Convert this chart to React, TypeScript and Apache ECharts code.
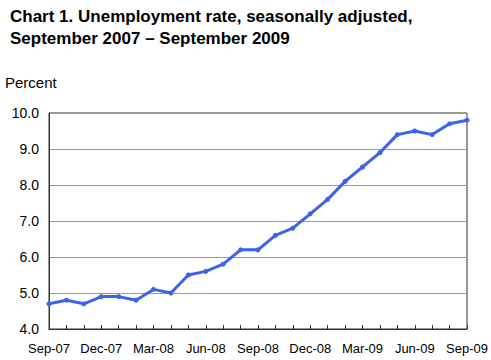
import React, { useEffect, useRef } from "react";
import * as echarts from "echarts";

const months = [
  "Sep-07", "Oct-07", "Nov-07", "Dec-07", "Jan-08", "Feb-08", "Mar-08", "Apr-08", "May-08",
  "Jun-08", "Jul-08", "Aug-08", "Sep-08", "Oct-08", "Nov-08", "Dec-08", "Jan-09", "Feb-09",
  "Mar-09", "Apr-09", "May-09", "Jun-09", "Jul-09", "Aug-09", "Sep-09",
];
const rate = [
  4.7, 4.8, 4.7, 4.9, 4.9, 4.8, 5.1, 5.0, 5.5, 5.6, 5.8, 6.2, 6.2, 6.6, 6.8, 7.2, 7.6, 8.1,
  8.5, 8.9, 9.4, 9.5, 9.4, 9.7, 9.8,
];
const titleText = "Chart 1. Unemployment rate, seasonally adjusted,\nSeptember 2007 \u2013 September 2009";
const yName = "Percent";

export default function App() {
  const ref = useRef<HTMLDivElement>(null);
  useEffect(() => {
    if (!ref.current) return;
    const chart = echarts.init(ref.current, undefined, { renderer: "svg" });
    const font = "Liberation Sans, Arial, sans-serif";
    chart.setOption({
      animation: false,
      backgroundColor: "#ffffff",
      textStyle: { fontFamily: font },
      title: {
        text: titleText,
        left: 5,
        top: 0,
        textStyle: { fontSize: 17, fontWeight: "bold", color: "#000", lineHeight: 22, fontFamily: font },
      },
      graphic: [
        {
          type: "text",
          left: 5,
          top: 75,
          style: { text: yName, fontSize: 15, fill: "#000", fontFamily: font },
        },
      ],
      grid: { left: 49, right: 24, top: 113, bottom: 31, show: true, borderColor: "#333", borderWidth: 1 },
      xAxis: {
        type: "category",
        data: months,
        boundaryGap: false,
        axisLine: { lineStyle: { color: "#333", width: 1 } },
        axisTick: { inside: true, length: 4, interval: 0, lineStyle: { color: "#333" } },
        axisLabel: { interval: 2, color: "#000", fontSize: 13, margin: 13, fontFamily: font },
        splitLine: { show: false },
      },
      yAxis: {
        type: "value",
        min: 4,
        max: 10,
        interval: 1,
        axisLine: { show: true, lineStyle: { color: "#333", width: 1 } },
        axisTick: { show: false },
        axisLabel: { color: "#000", fontSize: 14, margin: 10, fontFamily: font, formatter: (v: number) => v.toFixed(1) },
        splitLine: { lineStyle: { color: "#999", width: 1 } },
      },
      series: [
        {
          type: "line",
          data: rate,
          lineStyle: { color: "#3d63e8", width: 3 },
          itemStyle: { color: "#3d63e8" },
          symbol: "circle",
          symbolSize: 5,
          showSymbol: true,
        },
      ],
    });
    return () => chart.dispose();
  }, []);
  return <div ref={ref} style={{ width: 491, height: 360, position: "absolute", left: 0, top: 0 }} />;
}
